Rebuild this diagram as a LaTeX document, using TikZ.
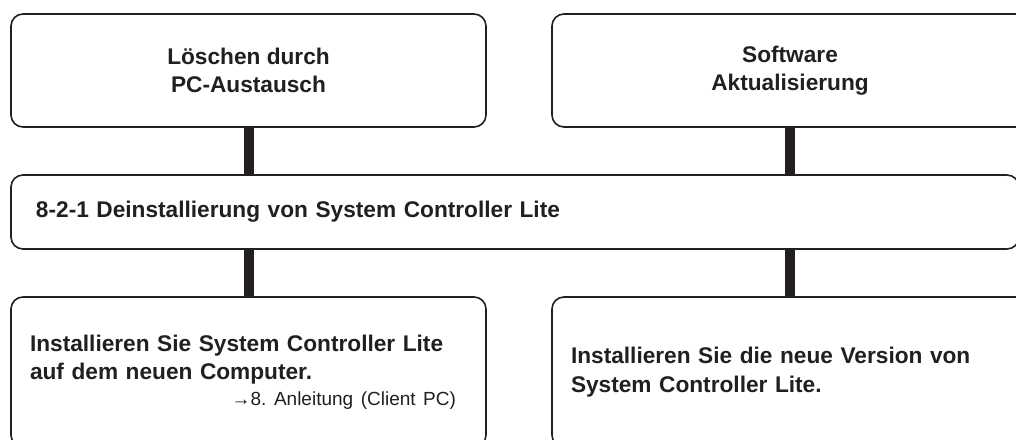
\documentclass[tikz,border=0pt]{standalone}
\usepackage{fontspec}
\setmainfont{Liberation Sans}
\definecolor{ink}{HTML}{231F20}
\frenchspacing

\begin{document}
\begin{tikzpicture}[x=0.75pt,y=-0.75pt, line join=round, line cap=round,
	font=\bfseries\fontsize{17}{21.25}\selectfont, text=ink,
	box/.style={draw=ink, line width=1.2pt, rounded corners=9pt, fill=white, inner sep=0pt},
	bar/.style={draw=ink, line width=7.5pt, line cap=butt}]
	\useasboundingbox (0,0) rectangle (1016,439);
	\clip (0,0) rectangle (1016,439);
	\node[box, minimum width=356.25pt, minimum height=84.75pt, align=center] (loeschen) at (248.5,70.5) {Löschen durch\\PC-Austausch};
	\node[box, minimum width=357pt, minimum height=84.75pt, align=center] (update) at (790,70.5) {Software\\Aktualisierung};
	\node[box, text width=718.5pt, inner xsep=18.75pt, minimum height=55.5pt, align=left] (deinst) at (515,212) {8-2-1 Deinstallierung von System Controller Lite};
	\node[box, text width=327.75pt, inner xsep=14.25pt, minimum height=112.5pt, align=left] (neupc) at (248.5,372)
		{Installieren Sie System Controller Lite\\auf dem neuen Computer.\\[-2pt]\makebox[319.5pt][r]{\mdseries\fontsize{14.25}{19.5}\selectfont →8. Anleitung (Client PC)}};
	\node[box, text width=328.5pt, inner xsep=14.25pt, minimum height=112.5pt, align=left] (neuver) at (790,372)
		{Installieren Sie die neue Version von\\System Controller Lite.};
	\draw[bar] (loeschen.south) -- (loeschen.south |- deinst.north);
	\draw[bar] (update.south) -- (update.south |- deinst.north);
	\draw[bar] (neupc.north) -- (neupc.north |- deinst.south);
	\draw[bar] (neuver.north) -- (neuver.north |- deinst.south);
\end{tikzpicture}
\end{document}
